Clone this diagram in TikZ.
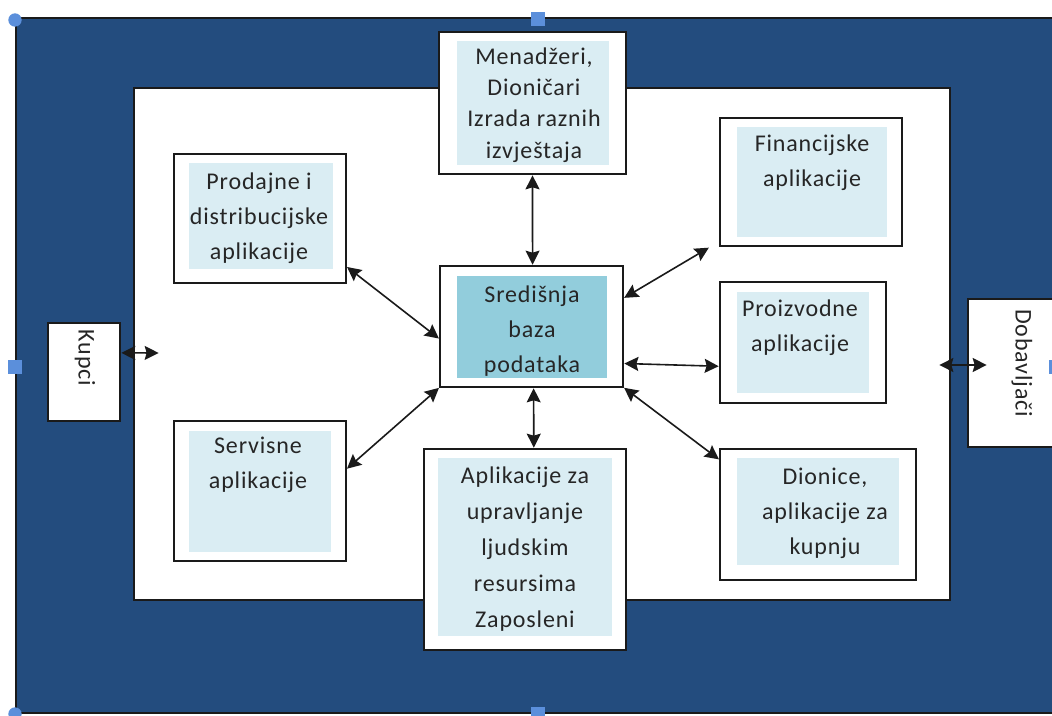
\documentclass[tikz,border=0pt]{standalone}
\usepackage{fontspec}
\setmainfont[LetterSpace=3.5]{Carlito}
\usetikzlibrary{arrows.meta}
\definecolor{navy}{HTML}{234C7E}
\definecolor{pale}{HTML}{DAEDF3}
\definecolor{teal1}{HTML}{92CDDC}
\definecolor{handle}{HTML}{5B8FDB}
\definecolor{ink}{HTML}{1A1A1A}
\definecolor{txtc}{HTML}{262626}
\tikzset{
  px/.style={x=0.75pt,y=-0.75pt},
  box/.style={draw=ink,line width=1.4pt,fill=white,inner sep=0pt,outer sep=0pt},
  panel/.style={fill=pale,inner sep=0pt,outer sep=0pt},
  label/.style={inner sep=0pt,outer sep=0pt,align=center,text=txtc,font=\fontsize{18pt}{26.3pt}\selectfont},
  link/.style={draw=ink,line width=1.2pt,{Stealth[length=10.5pt,width=10.5pt,inset=1.5pt]}-{Stealth[length=10.5pt,width=10.5pt,inset=1.5pt]},shorten <=1pt,shorten >=1pt},
  sq/.style={fill=handle,inner sep=0pt,outer sep=0pt,minimum size=10pt},
  ci/.style={fill=handle,circle,inner sep=0pt,outer sep=0pt,minimum size=10pt}
}
\newcommand{\bx}[6]{% name, x1,y1,x2,y2, style extra
  \node[box,minimum width={(#4-#2)*0.75pt},minimum height={(#5-#3)*0.75pt},#6] (#1) at ({(#2+#4)/2},{(#3+#5)/2}) {};}
\newcommand{\pn}[6]{%
  \node[panel,minimum width={(#4-#2)*0.75pt},minimum height={(#5-#3)*0.75pt},#6] (#1) at ({(#2+#4)/2},{(#3+#5)/2}) {};}
\begin{document}
\begin{tikzpicture}[px]
\useasboundingbox (0,0) rectangle (1052,716);
\fill[white] (0,0) rectangle (1052,716);
\node[draw=ink,line width=1.2pt,fill=navy,inner sep=0pt,minimum width={1040*0.75pt},minimum height={695*0.75pt}] (outer) at (536,365.5) {};
\bx{inner}{134}{88}{950}{600}{}
\bx{kupci}{48}{323}{120}{421}{}
\bx{dob}{968}{299}{1062}{447}{}
\bx{men}{439}{32}{626}{174}{}
\bx{pro}{174}{154}{346}{283}{}
\bx{fin}{720}{118}{902}{246}{}
\bx{sre}{440}{266}{623}{387}{}
\bx{pri}{720}{282}{886}{403}{}
\bx{ser}{174}{421}{346}{561}{}
\bx{apl}{424}{449}{626}{650}{}
\bx{dio}{720}{449}{916}{580}{}
\pn{menp}{457}{41}{609}{165}{}
\pn{prop}{189}{163}{333}{269}{}
\pn{finp}{737}{127}{887}{237}{}
\pn{srep}{457}{276}{607}{378}{fill=teal1}
\pn{prip}{737}{292}{869}{393}{}
\pn{serp}{189}{431}{331}{552}{}
\pn{aplp}{438}{458}{612}{636}{}
\pn{diop}{737}{458}{899}{565}{}
\node[label,font=\fontsize{18pt}{23.5pt}\selectfont,anchor=center] (tmen) at (534,105) {Menadžeri,\\Dioničari\\Izrada raznih\\izvještaja};
\node[label] (tpro) at (259,218) {Prodajne i\\distribucijske\\aplikacije};
\node[label] (tfin) at (812,163) {Financijske\\aplikacije};
\node[label] (tsre) at (532,331) {Središnja\\baza\\podataka};
\node[label] (tpri) at (800,328) {Proizvodne\\aplikacije};
\node[label] (tser) at (258,465) {Servisne\\aplikacije};
\node[label,font=\fontsize{18pt}{27pt}\selectfont] (tapl) at (525,549) {Aplikacije za\\upravljanje\\ljudskim\\resursima\\Zaposleni};
\node[label] (tdio) at (825,513) {Dionice,\\aplikacije za\\kupnju};
\node[label,rotate=-90] (tkup) at (85,358) {Kupci};
\node[label,rotate=-90] (tdob) at (1022,363) {Dobavljači};
\coordinate (finend) at (710,247);
\coordinate (kupend) at (160,353);
\coordinate (doba) at (938,365);
\coordinate (dobb) at (988,365);
\draw[link] (men.south) -- (sre.89);
\draw[link] (pro.-29) -- (sre.188);
\draw[link] (sre.17) -- (finend);
\draw[link] (sre.-22) -- (pri.196);
\draw[link] (sre.south east) -- (dio.151);
\draw[link] (sre.-88) -- (apl.85);
\draw[link] (ser.14) -- (sre.south west);
\draw[link] (kupci.28) -- (kupend);
\draw[link] (doba) -- (dobb);
\node[ci] (h1) at (15,20) {};
\node[sq] (h2) at (538,19) {};
\node[sq] (h3) at (15,367) {};
\node[ci] (h4) at (15,714) {};
\node[sq] (h5) at (538,714) {};
\node[sq] (h6) at (1056,367) {};
\end{tikzpicture}
\end{document}
